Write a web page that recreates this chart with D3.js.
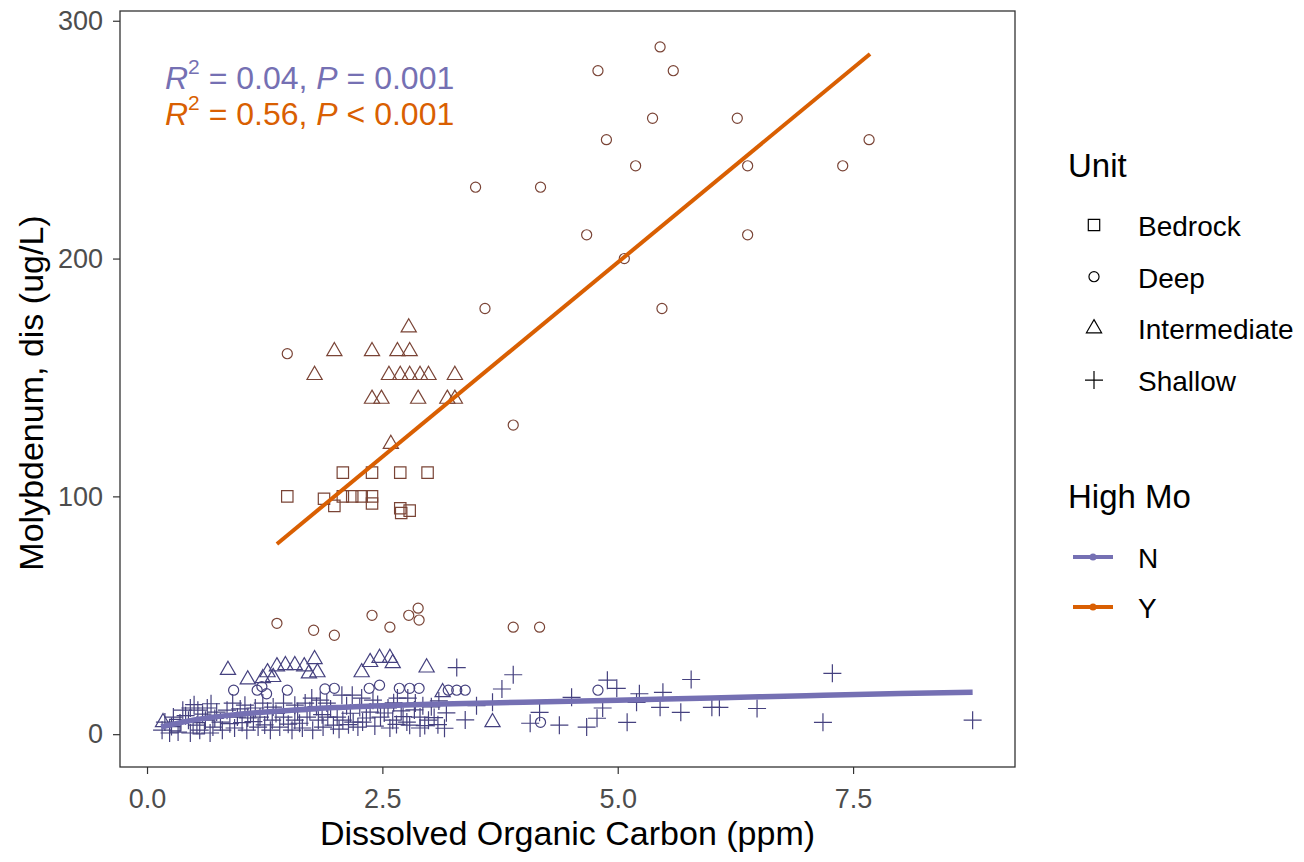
<!DOCTYPE html>
<html>
<head>
<meta charset="utf-8">
<script src="https://cdn.jsdelivr.net/npm/d3@7"></script>
<style>
  body { margin: 0; background: #fff; }
  text { font-family: "Liberation Sans", Arial, sans-serif; }
</style>
</head>
<body>
<svg id="chart" width="1304" height="862"></svg>
<script>
// ---- data: [DOC (ppm), Mo (ug/L)] by hydrogeologic unit and High Mo flag ----
const bedrockY = [[1.49,100],[1.88,99],[1.99,96],[2.08,110],[2.08,100],[2.18,100],[2.28,100],
  [2.39,110],[2.39,100],[2.39,97],[2.69,110],[2.69,95],[2.70,93],[2.79,94],[2.98,110]];
const deepY = [[5.45,289],[4.79,279],[5.59,279],[4.88,250],[7.67,250],[5.37,259],[6.27,259],
  [5.19,239],[6.38,239],[7.39,239],[3.49,230],[4.18,230],[4.67,210],[6.38,210],[5.07,200],
  [3.59,179],[5.47,179],[3.89,130],[1.49,160],[1.38,46.6],[1.77,43.7],[1.99,41.6],[2.39,50],
  [2.58,45],[2.78,50],[2.88,53],[2.89,48],[3.89,45],[4.17,45]];
const intermediateY = [[2.78,171],[1.99,161],[2.39,161],[2.66,161],[2.79,161],[1.78,151],
  [2.57,151],[2.69,151],[2.79,151],[2.90,151],[2.99,151],[3.27,151],[2.39,141],[2.49,141],
  [2.88,141],[3.19,141],[3.27,141],[2.59,122]];

const bedrockN = [[0.30,3.8],[0.55,2.5]];
const deepN = [[0.92,18.5],[1.17,18.5],[1.22,20],[1.27,17],[1.49,18.5],[1.89,19],[1.99,19.3],
  [2.36,19.3],[2.47,20.6],[2.68,19.3],[2.79,19.3],[2.89,19.3],[3.20,18.5],[3.29,18.5],
  [3.38,18.5],[4.79,18.5],[4.18,5]];
const intermediateN = [[0.17,5],[0.86,27],[1.07,23],[1.23,23.5],[1.28,26],[1.34,24],[1.38,28.5],
  [1.47,29],[1.57,29],[1.67,28.5],[1.72,25.5],[1.78,31.5],[1.81,26],[2.28,26],[2.37,30.3],
  [2.47,32],[2.58,32],[2.61,29.8],[2.97,28],[3.14,17.6],[3.67,5]];
const shallowN = [
  [3.29,28],[3.89,25],[3.77,19],[3.50,12],[3.67,13.4],[3.18,9],[3.38,6],[3.09,4],[3.16,2.5],
  [4.07,4.6],[4.51,15.5],[4.89,22.7],[4.99,19.3],[5.23,17],[5.48,17.6],[5.78,23],[4.84,11],
  [4.78,6.7],[4.67,3],[5.10,5],[4.17,9.2],[4.38,3.8],[5.45,11.3],[5.67,9.2],[5.20,13.4],
  [7.28,25.6],[6.00,11.3],[6.08,11.3],[6.48,10.8],[7.18,5],[8.77,5.9],[3.02,11.5],[3.10,14],
  [2.07,16.4],[2.18,16.4],[2.28,15.2],[2.40,14.3],[2.66,15.2],[2.77,15.2],[2.85,13.1],
  [2.56,11.0],[2.37,9.3],[2.16,8.8],[2.02,7.2],[2.08,5.9],[2.19,5.1],[2.29,5.1],[2.48,7.2],
  [2.61,5.9],[2.76,5.1],[2.90,7.2],[2.99,5.9],[1.98,3.8],[2.24,3.0],[2.58,2.6],[2.79,3.8],
  [2.90,2.6],[0.91,13.1],[1.04,12.2],[1.15,11],[1.23,13.1],[1.34,11.4],[1.45,13.1],[1.57,12.2],
  [1.68,13.1],[1.75,15.2],[1.84,14.3],[1.91,13.1],[0.96,7.2],[1.07,6.8],[1.20,7.2],[1.33,5.9],
  [1.45,7.2],[1.57,5.9],[1.70,7.2],[1.82,5.9],[1.92,7.2],[0.93,2.6],[1.06,1.7],[1.18,3.0],
  [1.31,1.7],[1.41,3.0],[1.54,1.7],[1.65,2.6],[1.76,1.7],[1.87,3.0],[0.38,10.1],[0.46,11],
  [0.54,10.1],[0.64,11],[0.74,9.3],[0.85,10.1],[0.19,5.1],[0.28,7.2],[0.35,4.7],[0.44,5.9],
  [0.53,3.8],[0.62,5.9],[0.70,3.0],[0.78,5.1],[0.16,1.7],[0.24,0.5],[0.33,0.9],[0.46,0.5],
  [0.56,1.7],[0.67,0.5],[0.80,1.7],[2.45,12.5],[2.70,9.8],[2.12,12.0],[1.60,9.5],[1.10,9.0],
  [0.26,3.2],[0.41,7.8],[0.59,8.4],[0.72,6.6],[0.88,4.4],[1.01,4.9],[1.13,5.3],[1.25,3.9],
  [1.37,8.7],[1.50,4.2],[1.62,4.6],[1.73,9.9],[1.86,8.2],[1.95,10.6],[2.04,2.1],[2.14,4.0],
  [2.33,6.8],[2.42,3.4],[2.52,8.9],[2.65,4.1],[2.72,7.4],[2.84,10.2],[2.95,3.6],[3.05,7.0],
  [0.99,10.6],[1.28,9.6],[1.80,11.6],[2.26,11.2],[2.62,13.2],[2.93,12.0],[0.50,12.4],[0.68,12.8]];

// fitted trend for each High Mo group
const fitN = [[0.15,3],[0.5,6],[1.0,8.5],[1.5,10],[2.0,11.2],[2.5,12],[3.0,12.6],[4.0,13.4],
  [5.0,14.3],[6.0,15.2],[7.0,16.2],[8.0,17.1],[8.77,17.6]];
const fitY = [[1.38,80],[7.68,286]];

const r2Values = ["0.04", "0.56"];
const pValues = ["= 0.001", "< 0.001"];

const units = ["Bedrock", "Deep", "Intermediate", "Shallow"];
const groups = ["N", "Y"];
const xTicks = [0, 2.5, 5, 7.5];
const yTicks = [0, 100, 200, 300];
const xLimits = [-0.287, 9.22];
const yLimits = [-13.8, 304.1];

// ---- layout ----
const panel = { left: 120, right: 1015, top: 11, bottom: 767 };
const lineColor = { N: "#7570b3", Y: "#d95f02" };
const pointColor = { N: "#45417f", Y: "#7a4436" };

const svg = d3.select("#chart");
const x = d3.scaleLinear().domain(xLimits).range([panel.left, panel.right]);
const y = d3.scaleLinear().domain(yLimits).range([panel.bottom, panel.top]);

// shape generators
const shapePath = {
  Bedrock: d3.symbol().type(d3.symbolSquare).size(130)(),
  Deep: d3.symbol().type(d3.symbolCircle).size(80)(),
  Intermediate: d3.symbol().type(d3.symbolTriangle).size(100)(),
  Shallow: "M-9,0H9M0,-9V9"
};

svg.append("rect").attr("width", 1304).attr("height", 862).attr("fill", "#fff");

const plot = svg.append("g");
const layers = [
  ["Bedrock", "N", bedrockN], ["Deep", "N", deepN], ["Intermediate", "N", intermediateN],
  ["Shallow", "N", shallowN], ["Bedrock", "Y", bedrockY], ["Deep", "Y", deepY],
  ["Intermediate", "Y", intermediateY]
];
layers.forEach(([unit, grp, pts]) => {
  plot.selectAll(null).data(pts).enter().append("path")
    .attr("d", shapePath[unit])
    .attr("transform", d => `translate(${x(d[0])},${y(d[1])})`)
    .attr("fill", "none")
    .attr("stroke", pointColor[grp])
    .attr("stroke-width", 1.2);
});

// trend lines
const line = d3.line().x(d => x(d[0])).y(d => y(d[1])).curve(d3.curveMonotoneX);
plot.append("path").datum(fitN).attr("d", line).attr("fill", "none")
  .attr("stroke", lineColor.N).attr("stroke-width", 5.5).attr("stroke-linecap", "butt");
plot.append("path").datum(fitY).attr("d", line).attr("fill", "none")
  .attr("stroke", lineColor.Y).attr("stroke-width", 4).attr("stroke-linecap", "butt");

// panel border
svg.append("rect")
  .attr("x", panel.left).attr("y", panel.top)
  .attr("width", panel.right - panel.left).attr("height", panel.bottom - panel.top)
  .attr("fill", "none").attr("stroke", "#333").attr("stroke-width", 1.3);

// axes
const xAxis = svg.append("g").attr("transform", `translate(0,${panel.bottom})`)
  .call(d3.axisBottom(x).tickValues(xTicks).tickFormat(d3.format(".1f")).tickSize(7).tickPadding(15));
const yAxis = svg.append("g").attr("transform", `translate(${panel.left},0)`)
  .call(d3.axisLeft(y).tickValues(yTicks).tickFormat(d3.format("d")).tickSize(7).tickPadding(10));
[xAxis, yAxis].forEach(a => {
  a.select(".domain").remove();
  a.selectAll(".tick line").attr("stroke", "#333").attr("stroke-width", 1.2);
  a.selectAll(".tick text").attr("fill", "#4d4d4d").attr("font-size", 27)
    .attr("font-family", '"Liberation Sans", Arial, sans-serif');
});

// axis titles
svg.append("text").attr("x", (panel.left + panel.right) / 2).attr("y", 845)
  .attr("text-anchor", "middle").attr("font-size", 34).attr("fill", "#000")
  .text("Dissolved Organic Carbon (ppm)");
svg.append("text").attr("transform", `translate(43,${(panel.top + panel.bottom) / 2 + 4}) rotate(-90)`)
  .attr("text-anchor", "middle").attr("font-size", 34).attr("fill", "#000")
  .text("Molybdenum, dis (ug/L)");

// regression statistics
groups.forEach((g, i) => {
  const t = svg.append("text").attr("x", 165).attr("y", 89 + i * 36)
    .attr("font-size", 32).attr("fill", lineColor[g]);
  t.append("tspan").attr("font-style", "italic").text("R");
  t.append("tspan").attr("font-size", 21).attr("dy", -15).text("2");
  t.append("tspan").attr("dy", 15).text(` = ${r2Values[i]}, `);
  t.append("tspan").attr("font-style", "italic").text("P");
  t.append("tspan").text(` ${pValues[i]}`);
});

// legend: Unit
const leg = svg.append("g");
leg.append("text").attr("x", 1068).attr("y", 177).attr("font-size", 33).attr("fill", "#000").text("Unit");
units.forEach((u, i) => {
  const cy = 225 + i * 51.7;
  leg.append("path").attr("d", shapePath[u]).attr("transform", `translate(1094,${cy})`)
    .attr("fill", "none").attr("stroke", "#000").attr("stroke-width", 1.2);
  leg.append("text").attr("x", 1138).attr("y", cy + 11).attr("font-size", 28).attr("fill", "#000").text(u);
});

// legend: High Mo
leg.append("text").attr("x", 1068).attr("y", 508).attr("font-size", 33).attr("fill", "#000").text("High Mo");
groups.forEach((g, i) => {
  const cy = 557 + i * 50;
  leg.append("line").attr("x1", 1073).attr("x2", 1113).attr("y1", cy).attr("y2", cy)
    .attr("stroke", lineColor[g]).attr("stroke-width", 4);
  leg.append("circle").attr("cx", 1093).attr("cy", cy).attr("r", 3.5).attr("fill", lineColor[g]);
  leg.append("text").attr("x", 1138).attr("y", cy + 11).attr("font-size", 28).attr("fill", "#000").text(g);
});
</script>
</body>
</html>
